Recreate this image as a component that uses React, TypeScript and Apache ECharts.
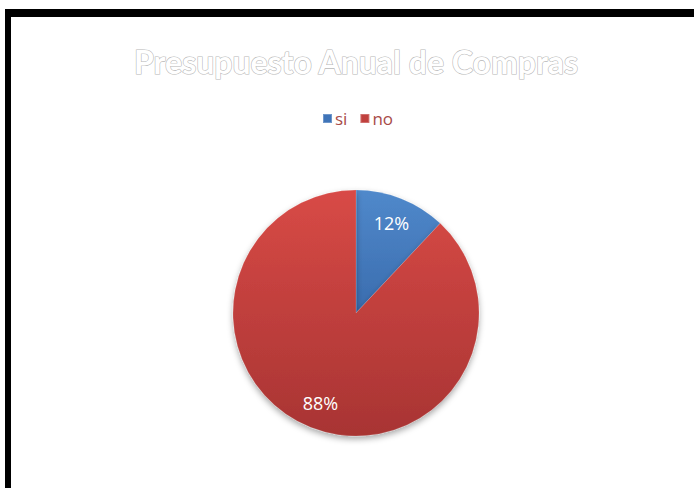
import React, { useEffect, useRef } from "react";
import * as echarts from "echarts";

const titleText = "Presupuesto Anual de Compras";
const categories = ["si", "no"];
const values = [12, 88];

export default function App() {
  const ref = useRef<HTMLDivElement>(null);
  useEffect(() => {
    if (!ref.current) return;
    const chart = echarts.init(ref.current, undefined, { renderer: "svg" });
    const colors = [
      new echarts.graphic.LinearGradient(0, 0, 0, 1, [
        { offset: 0, color: "#5089cb" },
        { offset: 1, color: "#3a6cae" },
      ]),
      new echarts.graphic.LinearGradient(0, 0, 0, 1, [
        { offset: 0, color: "#d84a46" },
        { offset: 1, color: "#a83433" },
      ]),
    ];
    const legendColors = ["#3f74b8", "#c0413e"];
    const R = 123;
    chart.setOption({
      animation: false,
      backgroundColor: "#ffffff",
      title: {
        text: titleText,
        left: 351,
        textAlign: "center",
        top: 40,
        textStyle: {
          fontFamily: "Lato",
          fontWeight: "bold",
          fontSize: 32,
          color: "#ffffff",
          textBorderColor: "#b8b8b8",
          textBorderWidth: 1.2,
        },
      },
      legend: {
        data: categories.map((c, i) => ({
          name: c,
          itemStyle: { color: legendColors[i] },
        })),
        top: 105,
        left: 317,
        itemWidth: 9,
        itemHeight: 9,
        itemGap: 12,
        icon: "rect",
        selectedMode: false,
        textStyle: {
          fontFamily: "Open Sans",
          fontSize: 17,
          color: "#a84a48",
          padding: [0, 0, 0, -2],
        },
      },
      graphic: [
        { type: "rect", shape: { x: 5, y: 9, width: 700, height: 8 }, style: { fill: "#000" } },
        { type: "rect", shape: { x: 5, y: 9, width: 6, height: 490 }, style: { fill: "#000" } },
      ],
      series: [
        {
          type: "pie",
          center: [356, 313],
          radius: [0, R],
          startAngle: 90,
          clockwise: true,
          silent: true,
          label: { show: false },
          labelLine: { show: false },
          itemStyle: {
            borderColor: "rgba(255,255,255,0.25)",
            borderWidth: 0.5,
            shadowBlur: 6,
            shadowOffsetY: 3,
            shadowColor: "rgba(0,0,0,0.35)",
          },
          data: categories.map((c, i) => ({
            name: c,
            value: values[i],
            itemStyle: { color: colors[i] },
          })),
        },
        {
          type: "pie",
          center: [356, 313],
          radius: [0, R * 1.52],
          startAngle: 90,
          clockwise: true,
          silent: true,
          z: 5,
          label: {
            show: true,
            position: "inside",
            formatter: "{d}%",
            color: "#ffffff",
            fontFamily: "Open Sans",
            fontSize: 18,
          },
          labelLine: { show: false },
          itemStyle: { color: "rgba(0,0,0,0)" },
          emphasis: { disabled: true },
          data: categories.map((c, i) => ({ name: c, value: values[i] })),
        },
      ],
    });
    return () => chart.dispose();
  }, []);
  return (
    <div
      ref={ref}
      style={{ position: "fixed", left: 0, top: 0, width: 694, height: 488 }}
    />
  );
}
